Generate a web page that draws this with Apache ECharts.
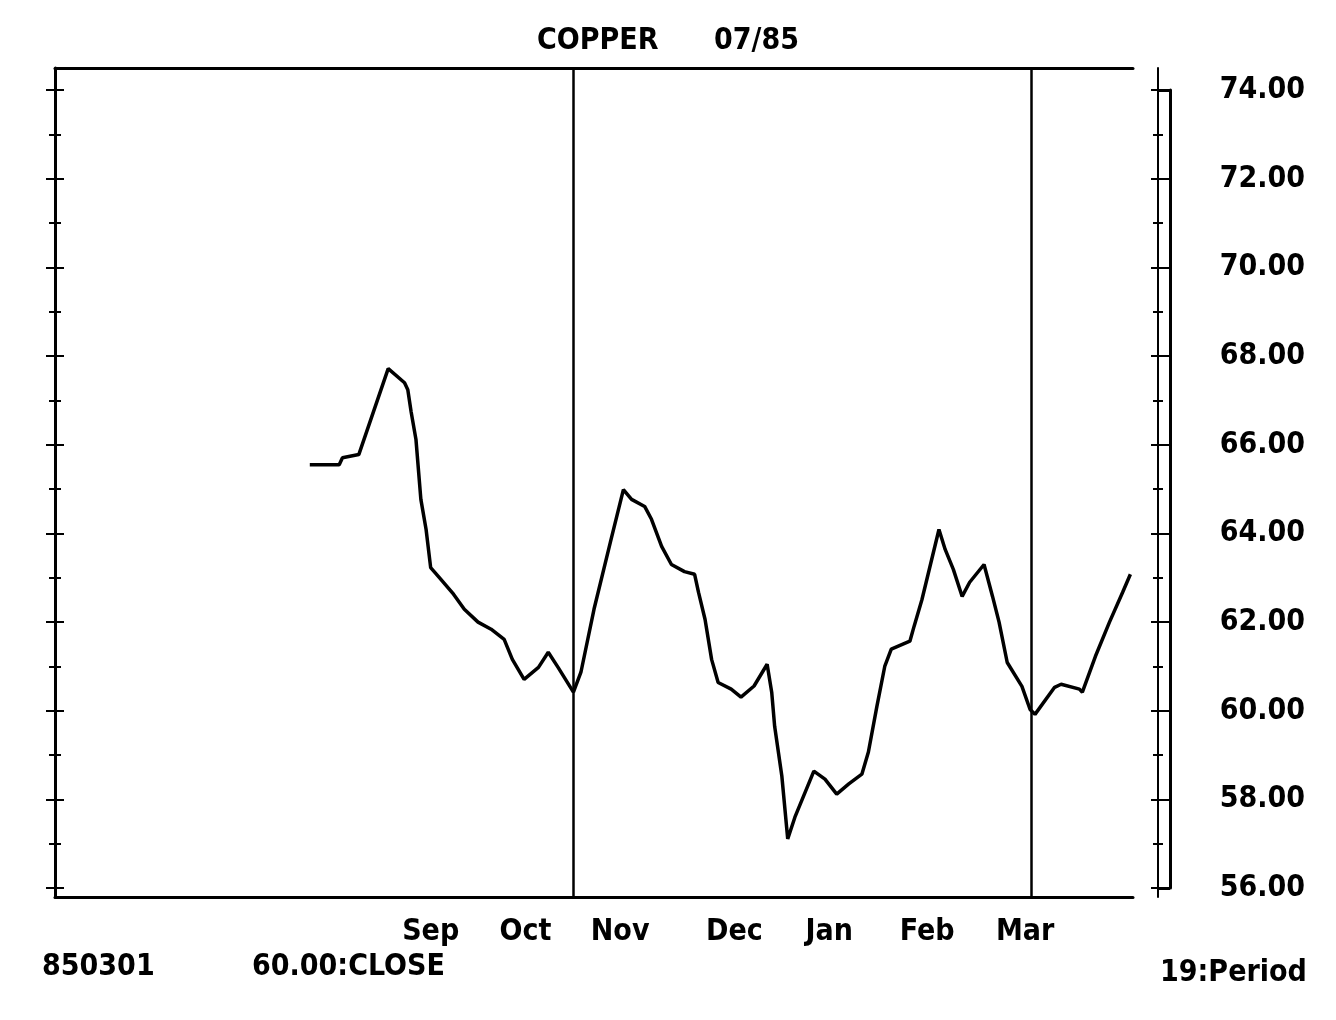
<!DOCTYPE html>
<html>
<head>
<meta charset="utf-8">
<script src="https://cdn.jsdelivr.net/npm/echarts@6/dist/echarts.min.js"></script>
<style>
html,body{margin:0;padding:0;background:#fff;}
#chart{width:1336px;height:1020px;}
</style>
</head>
<body>
<div id="chart"></div>
<script>
// x = days since 1 Aug 1984
const priceDays = [0, 9, 10, 15, 24, 29, 30, 31, 32.5, 34, 35.6, 37, 39.6, 44, 47.3, 51.5, 55.5, 59.5, 62, 65.6,
  70, 73, 76, 80.7, 83, 87, 92, 96, 98.5, 102.5, 104.6, 107.7, 110.7, 114.7, 117.8, 119, 121, 123, 125, 129,
  132, 136, 140, 141.4, 142.3, 144.5, 146.3, 148.5, 154.3, 157.7, 161.3, 165, 169, 171, 173.6, 176, 178, 183.7, 185, 187.4,
  192.6, 194.5, 197, 199.7, 202, 206.4, 209, 211, 213.5, 218, 220.5, 222, 228, 230, 235.6, 236.5, 240.5, 244.8, 248.8, 251.2];
const closePrices = [65.55, 65.55, 65.71, 65.78, 67.72, 67.40, 67.24, 66.75, 66.12, 64.77, 64.09, 63.23, 63.01, 62.63, 62.29, 62.00, 61.84, 61.61, 61.16, 60.71,
  60.98, 61.32, 60.98, 60.42, 60.87, 62.29, 63.80, 64.99, 64.77, 64.61, 64.32, 63.71, 63.30, 63.14, 63.08, 62.67, 62.06, 61.16, 60.64, 60.49,
  60.31, 60.56, 61.05, 60.42, 59.65, 58.53, 57.11, 57.60, 58.64, 58.46, 58.12, 58.35, 58.57, 59.07, 60.10, 61.00, 61.39, 61.57, 61.91, 62.51,
  64.09, 63.64, 63.19, 62.58, 62.90, 63.30, 62.58, 62.00, 61.09, 60.55, 60.03, 59.92, 60.53, 60.60, 60.49, 60.42, 61.23, 62.00, 62.67, 63.08];
const monthNames = ['Sep', 'Oct', 'Nov', 'Dec', 'Jan', 'Feb', 'Mar'];
const monthDays = [37, 66, 95, 130, 159, 189, 219];
const dividerDays = [80.7, 221];
const majorTicks = [56, 58, 60, 62, 64, 66, 68, 70, 72, 74];
const minorTicks = [57, 59, 61, 63, 65, 67, 69, 71, 73];
const titleLeft = 'COPPER';
const titleRight = '07/85';
const footLeft = '850301';
const footMid = '60.00:CLOSE';
const footRight = '19:Period';

const FONT = "'DejaVu Sans Condensed', 'DejaVu Sans', sans-serif";
const X_MIN = -78, X_MAX = 252;
const Y_MIN = 55.8, Y_MAX = 74.5;

function tickAxis(pos, offset, values, len, inside, showLine, lw) {
  return {
    type: 'value', position: pos, offset: offset, min: Y_MIN, max: Y_MAX,
    splitLine: {show: false},
    axisLine: {show: !!showLine, onZero: false, lineStyle: {color: '#000', width: lw || 2}},
    axisTick: {show: true, inside: inside, length: len, customValues: values, lineStyle: {color: '#000', width: 2}},
    axisLabel: {show: false}
  };
}

const chart = echarts.init(document.getElementById('chart'), null, {renderer: 'canvas'});
const txt = (size) => ({color: '#000', fontFamily: FONT, fontWeight: 'bold', fontSize: size});
chart.setOption({
  animation: false,
  backgroundColor: '#fff',
  title: [
    {text: titleLeft, left: 537, top: 26, padding: 0, textStyle: txt(30)},
    {text: titleRight, left: 714, top: 26, padding: 0, textStyle: txt(30)},
    {text: footLeft, left: 42, top: 952, padding: 0, textStyle: txt(30)},
    {text: footMid, left: 252, top: 952, padding: 0, textStyle: txt(30)},
    {text: footRight, left: 1160, top: 958, padding: 0, textStyle: txt(30)}
  ],
  grid: [
    {left: 55, right: 203, top: 68, bottom: 123, containLabel: false},
    {left: 1158, width: 12, top: 90, height: 798, containLabel: false}
  ],
  xAxis: [
    {type: 'value', gridIndex: 0, position: 'bottom', min: X_MIN, max: X_MAX,
      splitLine: {show: false},
      axisLine: {show: true, onZero: false, lineStyle: {color: '#000', width: 3}},
      axisTick: {show: false},
      axisLabel: {show: true, customValues: monthDays, margin: 20,
        formatter: v => monthNames[monthDays.indexOf(v)],
        color: '#000', fontFamily: FONT, fontWeight: 'bold', fontSize: 30}},
    {type: 'value', gridIndex: 0, position: 'top', min: X_MIN, max: X_MAX,
      splitLine: {show: false},
      axisLine: {show: true, onZero: false, lineStyle: {color: '#000', width: 3}},
      axisTick: {show: false}, axisLabel: {show: false}},
    {type: 'value', gridIndex: 1, min: 0, max: 1, show: false}
  ],
  yAxis: [
    Object.assign(tickAxis('left', 0, majorTicks, 9, false, true, 3), {gridIndex: 0}),
    Object.assign(tickAxis('left', 0, majorTicks, 9, true, false), {gridIndex: 0}),
    Object.assign(tickAxis('left', 0, minorTicks, 6, false, false), {gridIndex: 0}),
    Object.assign(tickAxis('left', 0, minorTicks, 6, true, false), {gridIndex: 0}),
    Object.assign(tickAxis('right', 25, majorTicks, 12, false, true, 2), {gridIndex: 0,
      axisLabel: {show: true, customValues: majorTicks, align: 'right', margin: 147,
        formatter: v => v.toFixed(2), color: '#000', fontFamily: FONT, fontWeight: 'bold', fontSize: 30}}),
    Object.assign(tickAxis('right', 25, majorTicks, 7, true, false), {gridIndex: 0}),
    Object.assign(tickAxis('right', 25, minorTicks, 5, false, false), {gridIndex: 0}),
    Object.assign(tickAxis('right', 25, minorTicks, 5, true, false), {gridIndex: 0}),
    {type: 'value', gridIndex: 1, position: 'right', min: 56, max: 74,
      splitLine: {show: false},
      axisLine: {show: true, onZero: false, lineStyle: {color: '#000', width: 3}},
      axisTick: {show: true, inside: true, length: 12, customValues: [56, 74], lineStyle: {color: '#000', width: 3}},
      axisLabel: {show: false}}
  ],
  series: [{
    type: 'line',
    xAxisIndex: 0, yAxisIndex: 0,
    data: priceDays.map((d, i) => [d, closePrices[i]]),
    showSymbol: false, symbol: 'none',
    lineStyle: {color: '#000', width: 3.5},
    clip: false,
    markLine: {
      silent: true, symbol: ['none', 'none'], label: {show: false},
      lineStyle: {color: '#000', width: 2.5, type: 'solid'},
      data: dividerDays.map(d => ({xAxis: d}))
    }
  }]
});
</script>
</body>
</html>
